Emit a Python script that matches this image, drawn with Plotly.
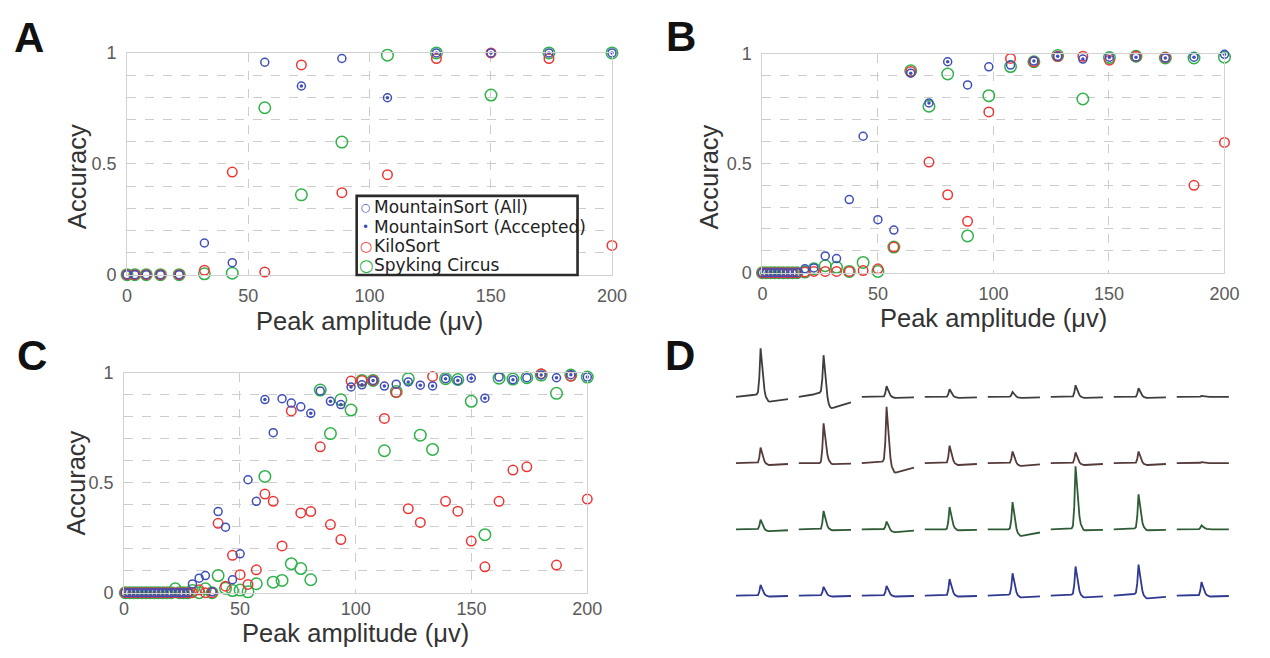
import numpy as np
import plotly.graph_objects as go

# ---------------- data ----------------
SORTERS = ["MountainSort (All)", "MountainSort (Accepted)", "KiloSort", "Spyking Circus"]

# Panel A
A_x = [0, 3.2, 7.9, 13.8, 21.5, 31.9, 43.4, 56.8, 71.9, 88.6, 107.4, 127.6, 150.1, 174.0, 200.0]
A_ms_all = [0, 0, 0, 0, 0, 0.143, 0.054, 0.958, 0.851, 0.975, 0.798, 1.0, 1.0, 1.0, 1.0]
A_ms_acc = [None, None, None, None, None, None, None, None, 0.851, None, 0.798, 1.0, 1.0, 1.0, 1.0]
A_kilo = [0, 0, 0, 0, 0, 0.02, 0.463, 0.012, 0.946, 0.37, 0.451, 0.975, 1.0, 0.975, 0.132]
A_sc = [0, 0, 0, 0, 0, 0.004, 0.007, 0.753, 0.36, 0.598, 0.99, 1.0, 0.81, 1.0, 1.0]

# Panel B
B_x = [0, 1.8, 3.6, 5.4, 7.2, 9.0, 11.0, 13.0, 15.0, 18.4, 22.3, 27.2, 32.1, 37.6, 43.6, 50.0,
       56.9, 64.2, 72.1, 80.2, 88.8, 98.0, 107.4, 117.5, 127.8, 138.7, 150.2, 161.7, 174.4, 186.8, 200.0]
B_ms_all = [0, 0, 0, 0, 0, 0, 0, 0, 0, 0.018, 0.022, 0.077, 0.065, 0.334, 0.623, 0.242,
            0.195, 0.911, 0.775, 0.963, 0.857, 0.94, 0.948, 0.966, 0.988, 0.975, 0.984, 0.984, 0.98, 0.984, 0.997]
B_ms_acc = [None, None, None, None, None, None, None, None, None, None, None, None, None, None, None, None,
            None, 0.911, 0.775, 0.963, None, None, None, 0.966, 0.988, 0.975, 0.984, 0.984, 0.98, 0.984, 0.997]
B_kilo = [0, 0, 0, 0, 0, 0, 0, 0, 0, 0.003, 0.006, 0.006, 0.006, 0.006, 0.01, 0.018,
          0.117, 0.919, 0.505, 0.356, 0.235, 0.734, 0.978, 0.963, 0.988, 0.988, 0.97, 0.988, 0.982, 0.399, 0.595]
B_sc = [0, 0, 0, 0, 0, 0, 0, 0, 0, 0.003, 0.018, 0.032, 0.025, 0.006, 0.047, 0.006,
        0.117, 0.922, 0.76, 0.907, 0.168, 0.808, 0.941, 0.963, 0.991, 0.793, 0.982, 0.988, 0.98, 0.98, 0.984]

# Panel C
C_x = [0.5, 2.3, 4.1, 5.9, 7.7, 9.5, 11.3, 13.1, 14.9, 16.7, 18.5, 20.3, 22.1, 23.9, 25.7, 27.6,
       29.5, 32.4, 35.1, 38.0, 40.6, 43.8, 46.8, 50.1, 53.5, 57.1, 60.8, 64.4, 68.2, 72.2, 76.3,
       80.6, 84.7, 89.1, 93.6, 98.0, 102.7, 107.5, 112.4, 117.5, 122.7, 127.9, 133.2, 138.8, 144.1,
       149.9, 155.8, 161.9, 167.9, 173.9, 180.1, 186.7, 192.9, 200.0]
C_ms_all = [0, 0, 0, 0, 0, 0, 0, 0, 0, 0, 0, 0, 0, 0, 0, 0,
            0.04, 0.066, 0.078, 0.004, 0.369, 0.298, 0.059, 0.177, 0.514, 0.416, 0.879, 0.728, 0.883, 0.863, 0.846,
            0.816, 0.918, 0.871, 0.856, 0.936, 0.946, 0.966, 0.94, 0.949, 0.959, 0.944, 0.941, 0.974, 0.966,
            0.976, 0.885, 0.981, 0.969, 0.978, 0.991, 0.978, 0.992, 0.981]
C_ms_acc = [None, None, None, None, None, None, None, None, None, None, None, None, None, None, None, None,
            None, None, None, None, None, None, None, None, None, None, 0.879, None, None, None, None,
            0.816, None, 0.871, 0.856, 0.936, 0.946, 0.966, 0.94, None, 0.959, 0.944, 0.941, 0.974, 0.966,
            0.976, 0.885, None, 0.969, None, 0.991, 0.978, 0.992, 0.981]
C_kilo = [0, 0, 0, 0, 0, 0, 0, 0, 0, 0, 0, 0, 0, 0, 0, 0,
          0, 0.013, 0, 0, 0.316, 0.03, 0.17, 0.082, 0.038, 0.104, 0.449, 0.416, 0.213, 0.827, 0.363,
          0.369, 0.664, 0.31, 0.242, 0.963, 0.965, 0.966, 0.793, 0.911, 0.382, 0.32, 0.984, 0.416, 0.371,
          0.235, 0.118, 0.416, 0.558, 0.573, 0.996, 0.126, 0.985, 0.426]
C_sc = [0, 0, 0, 0, 0, 0, 0, 0, 0, 0, 0, 0, 0.018, 0, 0, 0,
        0.01, 0, 0.018, 0, 0.078, 0.02, 0.01, 0.012, 0.004, 0.041, 0.529, 0.048, 0.056, 0.132, 0.11,
        0.059, 0.922, 0.724, 0.878, 0.831, 0.966, 0.966, 0.646, 0.915, 0.974, 0.717, 0.652, 0.974, 0.97,
        0.871, 0.264, 0.976, 0.972, 0.978, 0.99, 0.907, 0.99, 0.981]

# Panel D: template waveforms (normalised) and per-unit amplitudes, 4 rows x 8 columns
spike_template = [0, 0, 0, 0, 0, 0, 0, 0, 0, 0, 0, 0, 0, 0, 0, 0, 0, 0.04, 0.35, 1.0, 0.72,
                  0.42, 0.22, 0.1, 0.04, 0.01, 0, 0, 0, 0, 0, 0, 0, 0, 0, 0, 0, 0, 0, 0, 0]
pre_template = [0, 0.03, 0.06, 0.09, 0.12, 0.16, 0.2, 0.25, 0.3, 0.36, 0.42, 0.49, 0.56, 0.64, 0.72,
                0.8, 0.88, 0.95, 1.0, 1.0, 0.6, 0.3, 0.1, 0, 0, 0, 0, 0, 0, 0, 0, 0, 0, 0, 0, 0, 0, 0, 0, 0, 0]
under_template = [0, 0, 0, 0, 0, 0, 0, 0, 0, 0, 0, 0, 0, 0, 0, 0, 0, 0, 0, 0, 0.15, 0.45, 0.75, 0.92,
                  1.0, 1.0, 0.97, 0.93, 0.89, 0.85, 0.81, 0.77, 0.73, 0.69, 0.65, 0.62, 0.59, 0.56, 0.53, 0.5, 0.47]
D_peak = [[47, 38, 11, 8, 5, 12, 9, 1],
          [16, 41, 56, 18, 12, 11, 12, 1],
          [10, 19, 8, 23, 28, 64, 35, 4],
          [11, 9, 10, 17, 22, 29, 30, 14]]
D_pre = [[3, 5, 0, 0, 0, 0, 0, 0],
         [0, 0, 2, 0, 0, 0, 0, 0],
         [0, 0, 0, 0, 0, 1, 1, 0],
         [0, 0, 0, 0, 1, 1, 2, 0]]
D_under = [[5, 12, 1, 1, 1, 1, 1, 0],
           [2, 1, 10, 2, 3, 2, 2, 0],
           [2, 1, 3, 1, 7, 1, 1, 0],
           [1, 1, 1, 1, 2, 2, 3, 1]]

# ---------------- styles ----------------
BLUE = "#3f4fb8"
RED = "#f03434"
GREEN = "#2fb24a"
ROW_COLORS = ["#3e3e3e", "#553a3a", "#2f5c36", "#30398f"]
TICKFONT = dict(family="Liberation Sans, Arial, sans-serif", size=18, color="#5a5a5a")
TITLEFONT = dict(family="Liberation Sans, Arial, sans-serif", size=25.5, color="#333333")

fig = go.Figure()

panels = [
    ("x", "y", A_x, A_ms_all, A_ms_acc, A_kilo, A_sc),
    ("x2", "y2", B_x, B_ms_all, B_ms_acc, B_kilo, B_sc),
    ("x3", "y3", C_x, C_ms_all, C_ms_acc, C_kilo, C_sc),
]
for xa, ya, xs, ms_all, ms_acc, kilo, sc in panels:
    fig.add_trace(go.Scatter(x=xs, y=sc, mode="markers", xaxis=xa, yaxis=ya, name=SORTERS[3],
                             showlegend=False, cliponaxis=False,
                             marker=dict(symbol="circle-open", size=11.5, color=GREEN, line=dict(width=1.5))))
    fig.add_trace(go.Scatter(x=xs, y=kilo, mode="markers", xaxis=xa, yaxis=ya, name=SORTERS[2],
                             showlegend=False, cliponaxis=False,
                             marker=dict(symbol="circle-open", size=9.5, color=RED, line=dict(width=1.5))))
    fig.add_trace(go.Scatter(x=xs, y=ms_all, mode="markers", xaxis=xa, yaxis=ya, name=SORTERS[0],
                             showlegend=False, cliponaxis=False,
                             marker=dict(symbol="circle-open", size=8, color=BLUE, line=dict(width=1.5))))
    fig.add_trace(go.Scatter(x=xs, y=ms_acc, mode="markers", xaxis=xa, yaxis=ya, name=SORTERS[1],
                             showlegend=False, cliponaxis=False,
                             marker=dict(symbol="circle", size=3.5, color=BLUE)))

# Panel D waveforms
col_step = 64.0
trace_w = 53.0
row_step = 68.3
top_base = 241.0
frac = np.linspace(0, 1, len(spike_template))
spike = np.array(spike_template)
pre = np.array(pre_template)
under = np.array(under_template)
for r in range(4):
    xs_all, ys_all = [], []
    base = top_base - r * row_step
    for c in range(8):
        xs = c * col_step + frac * trace_w
        ys = base + D_peak[r][c] * spike + D_pre[r][c] * pre - D_under[r][c] * under
        xs_all += list(xs) + [None]
        ys_all += list(ys) + [None]
    fig.add_trace(go.Scatter(x=xs_all, y=ys_all, mode="lines", xaxis="x4", yaxis="y4",
                             showlegend=False, line=dict(color=ROW_COLORS[r], width=1.8),
                             hoverinfo="skip"))

W, H = 1270, 658


def px(x):
    return x / W


def py(y):
    return 1 - y / H


def xd(a, b):
    return [px(a), px(b)]


def yd(top, bottom):
    return [py(bottom), py(top)]


common_x = dict(range=[0, 200], tickvals=[0, 50, 100, 150, 200], showgrid=True, gridcolor="#cdcdcd",
                griddash="dash", gridwidth=1, zeroline=False, showline=True, linecolor="#d2d2d2",
                linewidth=1, mirror=True, ticks="", tickfont=TICKFONT)
common_y = dict(range=[0, 1], tickvals=[0, 0.5, 1], ticktext=["0", "0.5", "1"], showgrid=True,
                gridcolor="#cdcdcd", griddash="dash", gridwidth=1, zeroline=False, showline=True,
                linecolor="#d2d2d2", linewidth=1, mirror=True, ticks="", tickfont=TICKFONT,
                minor=dict(dtick=0.1, tick0=0, showgrid=True, gridcolor="#cdcdcd", griddash="dash", ticks=""),
                ticklabelstandoff=6)

fig.update_layout(
    width=W, height=H, autosize=False, margin=dict(l=0, r=0, t=0, b=0),
    paper_bgcolor="white", plot_bgcolor="white", showlegend=False,
    xaxis=dict(domain=xd(124, 616.7), anchor="y", ticklabelstandoff=5, **common_x),
    yaxis=dict(domain=yd(44.3, 273), anchor="x", **common_y),
    xaxis2=dict(domain=xd(769.5, 1239), anchor="y2", ticklabelstandoff=5, **common_x),
    yaxis2=dict(domain=yd(45, 271), anchor="x2", **common_y),
    xaxis3=dict(domain=xd(121, 591.6), anchor="y3", ticklabelstandoff=0, **common_x),
    yaxis3=dict(domain=yd(374.3, 601), anchor="x3", **common_y),
    xaxis4=dict(domain=xd(742.5, 1243.5), anchor="y4", range=[0, 7 * col_step + trace_w], visible=False),
    yaxis4=dict(domain=yd(340, 640), anchor="x4", range=[0, 300], visible=False),
)

annotations = []
# panel letters
for txt, cx, cy in [("A", 24.5, 28), ("B", 687, 27.5), ("C", 27.5, 356.5), ("D", 686, 356.5)]:
    annotations.append(dict(text="<b>%s</b>" % txt, x=px(cx), y=py(cy), xref="paper", yref="paper",
                            showarrow=False, xanchor="center", yanchor="middle",
                            font=dict(family="Liberation Sans, Arial, sans-serif", size=42, color="#111111")))
# axis titles
for cx, cy in [(370, 321), (1004, 318), (356, 643)]:
    annotations.append(dict(text="Peak amplitude (μv)", x=px(cx), y=py(cy), xref="paper", yref="paper",
                            showarrow=False, xanchor="center", yanchor="middle", font=TITLEFONT))
for cx, cy in [(72.5, 172), (715, 172), (72.5, 488)]:
    annotations.append(dict(text="Accuracy", x=px(cx), y=py(cy), xref="paper", yref="paper",
                            showarrow=False, xanchor="center", yanchor="middle", textangle=-90, font=TITLEFONT))

# legend (panel A): framed box with coloured marker glyphs and labels
legend_glyphs = ["○", "•", "○", "○"]
legend_colors = [BLUE, BLUE, RED, GREEN]
legend_glyph_sizes = [11, 12, 14, 16.5]
legend_left, legend_right, legend_top, legend_bottom = 357.3, 581.7, 191.7, 273.3
row_h = 20.0
for i, name in enumerate(SORTERS):
    yc = legend_top + 11.8 + i * row_h
    annotations.append(dict(text=legend_glyphs[i], x=px(366.5), y=py(yc), xref="paper", yref="paper",
                            showarrow=False, xanchor="center", yanchor="middle",
                            font=dict(family="DejaVu Sans, sans-serif", size=legend_glyph_sizes[i],
                                      color=legend_colors[i])))
    annotations.append(dict(text=name, x=px(372.5), y=py(yc), xref="paper", yref="paper",
                            showarrow=False, xanchor="left", yanchor="middle",
                            font=dict(family="DejaVu Sans, sans-serif", size=17, color="#222222")))
fig.update_layout(annotations=annotations)
fig.add_shape(type="rect", xref="paper", yref="paper", x0=px(legend_left), x1=px(legend_right),
              y0=py(legend_bottom), y1=py(legend_top), line=dict(color="#2a2a2a", width=2.6),
              fillcolor="white", layer="above")

fig.write_html("out.html", config={"displayModeBar": False},
               post_script="document.body.style.margin='0px';document.body.style.overflow='hidden';")
